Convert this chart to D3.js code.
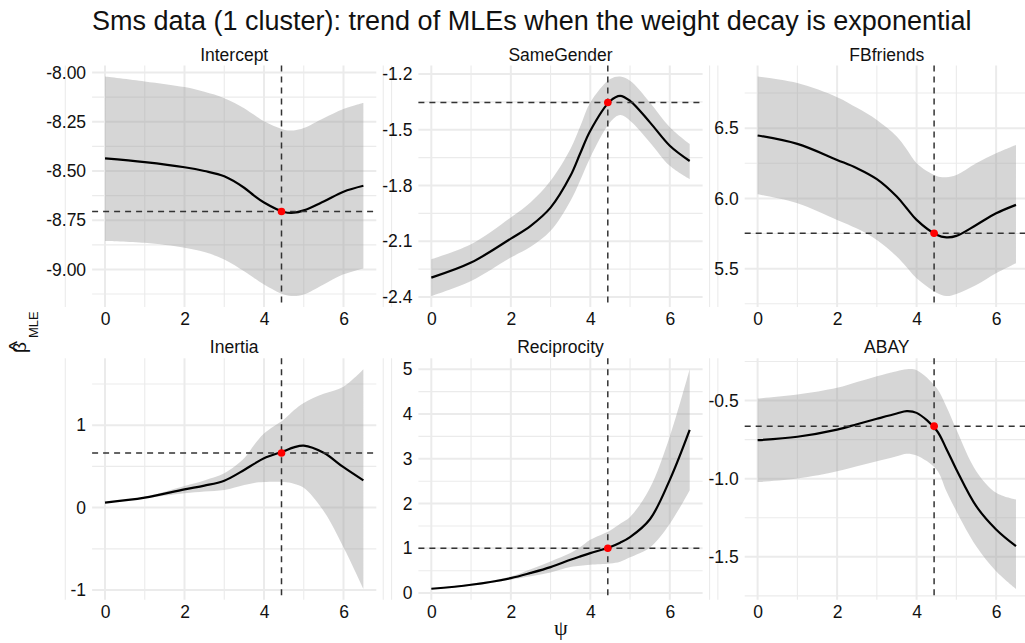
<!DOCTYPE html>
<html>
<head>
<meta charset="utf-8">
<script src="https://cdn.jsdelivr.net/npm/d3@7"></script>
<style>
body { margin: 0; background: #fff; }
text { font-family: "Liberation Sans", Arial, sans-serif; fill: #111; }
.grid-major { stroke: #ebebeb; stroke-width: 2; }
.grid-minor { stroke: #ebebeb; stroke-width: 1.1; }
.band { fill: #999; fill-opacity: 0.4; }
.est { fill: none; stroke: #000; stroke-width: 2.2; }
.ref { stroke: #333; stroke-width: 1.5; stroke-dasharray: 6,5; fill: none; }
</style>
</head>
<body>
<svg width="1025" height="643"></svg>
<script>
// psi grid shared by every panel
var psi = [0, 1, 2, 2.5, 3, 3.5, 3.75, 4, 4.5, 4.75, 5, 5.5, 6, 6.5];
var psiStar = 4.44;

var panelNames = ["Intercept", "SameGender", "FBfriends", "Inertia", "Reciprocity", "ABAY"];

var interceptEst  = [-8.436, -8.455, -8.481, -8.500, -8.527, -8.585, -8.625, -8.660, -8.708, -8.712, -8.700, -8.655, -8.605, -8.575];
var interceptHigh = [-8.020, -8.045, -8.074, -8.098, -8.130, -8.181, -8.215, -8.248, -8.290, -8.294, -8.282, -8.232, -8.185, -8.155];
var interceptLow  = [-8.855, -8.865, -8.890, -8.912, -8.949, -9.009, -9.043, -9.076, -9.127, -9.135, -9.127, -9.076, -9.025, -8.995];

var sameGenderEst  = [-2.296, -2.215, -2.086, -2.017, -1.919, -1.748, -1.625, -1.505, -1.345, -1.317, -1.344, -1.460, -1.586, -1.668];
var sameGenderHigh = [-2.197, -2.116, -1.972, -1.890, -1.775, -1.604, -1.480, -1.353, -1.227, -1.213, -1.236, -1.353, -1.487, -1.577];
var sameGenderLow  = [-2.395, -2.314, -2.188, -2.130, -2.044, -1.883, -1.770, -1.649, -1.460, -1.421, -1.451, -1.568, -1.694, -1.766];

var fbEst  = [6.448, 6.388, 6.274, 6.215, 6.137, 6.013, 5.930, 5.847, 5.742, 5.723, 5.733, 5.811, 5.894, 5.954];
var fbHigh = [6.868, 6.821, 6.721, 6.645, 6.559, 6.441, 6.350, 6.251, 6.160, 6.151, 6.167, 6.251, 6.322, 6.381];
var fbLow  = [6.030, 5.966, 5.847, 5.785, 5.704, 5.586, 5.510, 5.431, 5.329, 5.305, 5.320, 5.384, 5.467, 5.538];

var inertiaEst  = [0.061, 0.121, 0.222, 0.267, 0.327, 0.457, 0.530, 0.600, 0.685, 0.731, 0.752, 0.665, 0.490, 0.330];
var inertiaHigh = [0.068, 0.133, 0.263, 0.330, 0.416, 0.598, 0.760, 0.900, 1.070, 1.180, 1.270, 1.380, 1.467, 1.678];
var inertiaLow  = [0.054, 0.113, 0.174, 0.195, 0.214, 0.275, 0.300, 0.310, 0.310, 0.290, 0.240, -0.040, -0.480, -0.985];

var recipEst  = [0.097, 0.186, 0.335, 0.450, 0.580, 0.744, 0.820, 0.893, 1.030, 1.125, 1.250, 1.650, 2.530, 3.646];
var recipHigh = [0.099, 0.208, 0.372, 0.530, 0.707, 0.893, 1.030, 1.190, 1.400, 1.550, 1.700, 2.350, 3.500, 5.000];
var recipLow  = [0.095, 0.164, 0.298, 0.375, 0.461, 0.580, 0.610, 0.632, 0.660, 0.700, 0.800, 1.020, 1.550, 2.300];

var abayEst  = [-0.754, -0.732, -0.686, -0.652, -0.617, -0.583, -0.568, -0.579, -0.690, -0.810, -0.941, -1.176, -1.325, -1.432];
var abayHigh = [-0.487, -0.462, -0.419, -0.382, -0.344, -0.312, -0.300, -0.306, -0.419, -0.540, -0.686, -0.952, -1.090, -1.133];
var abayLow  = [-1.022, -0.999, -0.952, -0.920, -0.888, -0.856, -0.840, -0.852, -0.941, -1.080, -1.208, -1.432, -1.592, -1.705];

// value of each estimate at psiStar (red point / horizontal dashed line)
var starValues = [-8.706, -1.353, 5.752, 0.663, 1.0, -0.664];

var yTicks = [
  [-9.00, -8.75, -8.50, -8.25, -8.00],
  [-2.4, -2.1, -1.8, -1.5, -1.2],
  [5.5, 6.0, 6.5],
  [-1, 0, 1],
  [0, 1, 2, 3, 4, 5],
  [-1.5, -1.0, -0.5]
];
var yDecimals = [2, 1, 1, 0, 0, 1];
var xTicks = [0, 2, 4, 6];

var ests  = [interceptEst, sameGenderEst, fbEst, inertiaEst, recipEst, abayEst];
var highs = [interceptHigh, sameGenderHigh, fbHigh, inertiaHigh, recipHigh, abayHigh];
var lows  = [interceptLow, sameGenderLow, fbLow, inertiaLow, recipLow, abayLow];

var svg = d3.select("svg");

var panelW = 284.2, panelH = 241.5;
var colLeft = [92.1, 418.4, 744.7],
    rowTop = [65.5, 358.3];

function expand(ext) {
  var pad = (ext[1] - ext[0]) * 0.05;
  return [ext[0] - pad, ext[1] + pad];
}

// minor breaks: halfway between majors, one extra step on each side
function minors(ticks) {
  var step = ticks[1] - ticks[0], out = [];
  for (var i = -1; i < ticks.length; i++) out.push(ticks[0] + (i + 0.5) * step);
  return out;
}

var x = d3.scaleLinear().domain(expand(d3.extent(psi))).range([0, panelW]);
var xMinor = minors(xTicks);

svg.append("text")
    .attr("x", 92)
    .attr("y", 30)
    .style("font-size", "27px")
    .text("Sms data (1 cluster): trend of MLEs when the weight decay is exponential");

panelNames.forEach(function(name, k) {
  var left = colLeft[k % 3], top = rowTop[Math.floor(k / 3)];
  var rows = psi.map(function(p, i) {
    return {psi: p, est: ests[k][i], lo: lows[k][i], hi: highs[k][i]};
  });
  var y = d3.scaleLinear()
      .domain(expand([d3.min(lows[k]), d3.max(highs[k])]))
      .range([panelH, 0]);
  var yMin = y.domain()[0], yMax = y.domain()[1];

  var g = svg.append("g").attr("transform", "translate(" + left + "," + top + ")");

  // grid
  g.selectAll(".ymin").data(minors(yTicks[k]).filter(function(v) { return v > yMin && v < yMax; }))
    .enter().append("line").attr("class", "grid-minor")
      .attr("x1", 0).attr("x2", panelW)
      .attr("y1", function(d) { return y(d); }).attr("y2", function(d) { return y(d); });
  g.selectAll(".xmin").data(xMinor)
    .enter().append("line").attr("class", "grid-minor")
      .attr("y1", 0).attr("y2", panelH)
      .attr("x1", function(d) { return x(d); }).attr("x2", function(d) { return x(d); });
  g.selectAll(".ymaj").data(yTicks[k])
    .enter().append("line").attr("class", "grid-major")
      .attr("x1", 0).attr("x2", panelW)
      .attr("y1", function(d) { return y(d); }).attr("y2", function(d) { return y(d); });
  g.selectAll(".xmaj").data(xTicks)
    .enter().append("line").attr("class", "grid-major")
      .attr("y1", 0).attr("y2", panelH)
      .attr("x1", function(d) { return x(d); }).attr("x2", function(d) { return x(d); });

  var area = d3.area()
      .curve(d3.curveCatmullRom.alpha(0.5))
      .x(function(d) { return x(d.psi); })
      .y0(function(d) { return y(d.lo); })
      .y1(function(d) { return y(d.hi); });
  var line = d3.line()
      .curve(d3.curveCatmullRom.alpha(0.5))
      .x(function(d) { return x(d.psi); })
      .y(function(d) { return y(d.est); });

  g.append("path").datum(rows).attr("class", "band").attr("d", area);
  g.append("path").datum(rows).attr("class", "est").attr("d", line);

  g.append("line").attr("class", "ref")
      .attr("x1", x(psiStar)).attr("x2", x(psiStar))
      .attr("y1", 0).attr("y2", panelH);
  g.append("line").attr("class", "ref")
      .attr("x1", 0).attr("x2", panelW)
      .attr("y1", y(starValues[k])).attr("y2", y(starValues[k]));

  g.append("circle")
      .attr("cx", x(psiStar))
      .attr("cy", y(starValues[k]))
      .attr("r", 3.8)
      .attr("fill", "#ff0000");

  // axes
  var ya = g.append("g")
      .call(d3.axisLeft(y).tickValues(yTicks[k]).tickSize(0).tickPadding(6)
        .tickFormat(function(d) { return d.toFixed(yDecimals[k]); }));
  var xa = g.append("g")
      .attr("transform", "translate(0," + panelH + ")")
      .call(d3.axisBottom(x).tickValues(xTicks).tickSize(0).tickPadding(6)
        .tickFormat(function(d) { return d; }));
  [ya, xa].forEach(function(a) {
    a.select(".domain").remove();
    a.selectAll("text")
        .attr("fill", "#111")
        .style("font-size", "17.5px")
        .style("font-family", "'Liberation Sans', Arial, sans-serif");
  });

  g.append("text")
      .attr("x", panelW / 2)
      .attr("y", -5)
      .attr("text-anchor", "middle")
      .style("font-size", "17.5px")
      .text(name);
});

// x axis title
svg.append("text")
    .attr("x", 561)
    .attr("y", 635)
    .attr("text-anchor", "middle")
    .style("font-family", "'Liberation Serif', 'DejaVu Serif', serif")
    .style("font-size", "22px")
    .text("ψ");

// y axis title: beta hat with MLE subscript, rotated
var yt = svg.append("g").attr("transform", "translate(25,332) rotate(-90)");
yt.append("text")
    .attr("x", -21).attr("y", 1)
    .style("font-size", "19px")
    .text("β");
yt.append("text")
    .attr("x", -14).attr("y", -1)
    .attr("text-anchor", "middle")
    .style("font-size", "22px")
    .text("^");
yt.append("text")
    .attr("x", -6).attr("y", 13)
    .style("font-size", "13px")
    .text("MLE");
</script>
</body>
</html>
